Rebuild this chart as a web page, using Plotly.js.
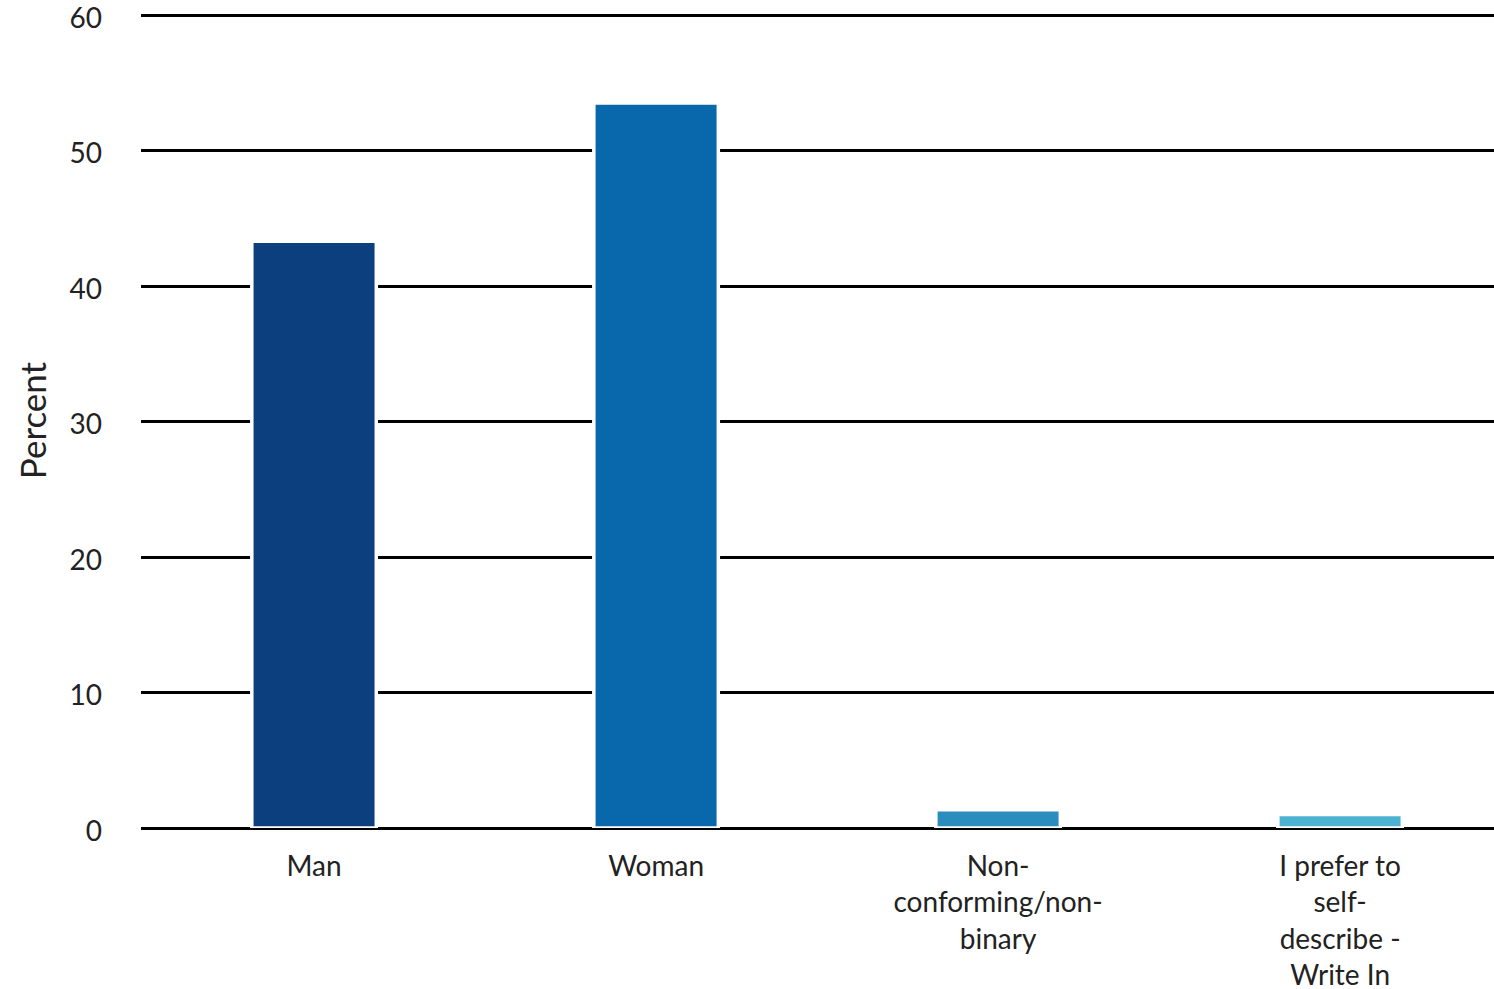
<!DOCTYPE html>
<html>
<head>
<meta charset="utf-8">
<script src="https://cdn.plot.ly/plotly-3.0.1.min.js"></script>
<style>html,body{margin:0;padding:0;background:#fff;}#chart{width:1494px;height:989px;}</style>
</head>
<body>
<div id="chart"></div>
<script>
const categories = ["Man", "Woman", "Non-conforming/non-binary", "I prefer to self-describe - Write In"];
const tickLabels = ["Man", "Woman", "Non-<br>conforming/non-<br>binary", "I prefer to<br>self-<br>describe -<br>Write In"];
const percents = [43.3, 53.5, 1.35, 1.0];
const colors = ["#0b3f7e", "#0868ab", "#2b8cbe", "#4eb3d3"];
const yTicks = [0, 10, 20, 30, 40, 50, 60];

const trace = {
  type: "bar",
  x: categories,
  y: percents,
  marker: { color: colors, line: { color: "#ffffff", width: 3.5 } },
  hoverinfo: "x+y"
};

const font = "Lato, sans-serif";
const layout = {
  width: 1494, height: 989,
  margin: { l: 141, r: 0, t: 13, b: 161 },
  paper_bgcolor: "#ffffff", plot_bgcolor: "#ffffff",
  showlegend: false,
  bargap: 0.636,
  font: { family: font, color: "#222222", size: 28 },
  xaxis: {
    type: "category",
    range: [-0.506, 3.45],
    tickvals: categories,
    ticktext: tickLabels,
    showgrid: false, zeroline: false, showline: false,
    ticks: "", ticklabelstandoff: 19, ticklabeloverflow: "allow",
    tickfont: { family: font, size: 28, color: "#222222" },
    tickangle: 0
  },
  yaxis: {
    range: [0, 60.15],
    tickvals: yTicks,
    showgrid: true, gridcolor: "#000000", gridwidth: 3,
    zeroline: true, zerolinecolor: "#000000", zerolinewidth: 3,
    showline: false, ticks: "", ticklabelstandoff: 38, ticklabeloverflow: "allow",
    ticklabelshift: 3,
    tickfont: { family: font, size: 28, color: "#222222" },
    title: { text: "Percent", font: { family: font, size: 35, color: "#222222" }, standoff: 12 }
  }
};

Plotly.newPlot("chart", [trace], layout, { displayModeBar: false, staticPlot: true });
</script>
</body>
</html>
